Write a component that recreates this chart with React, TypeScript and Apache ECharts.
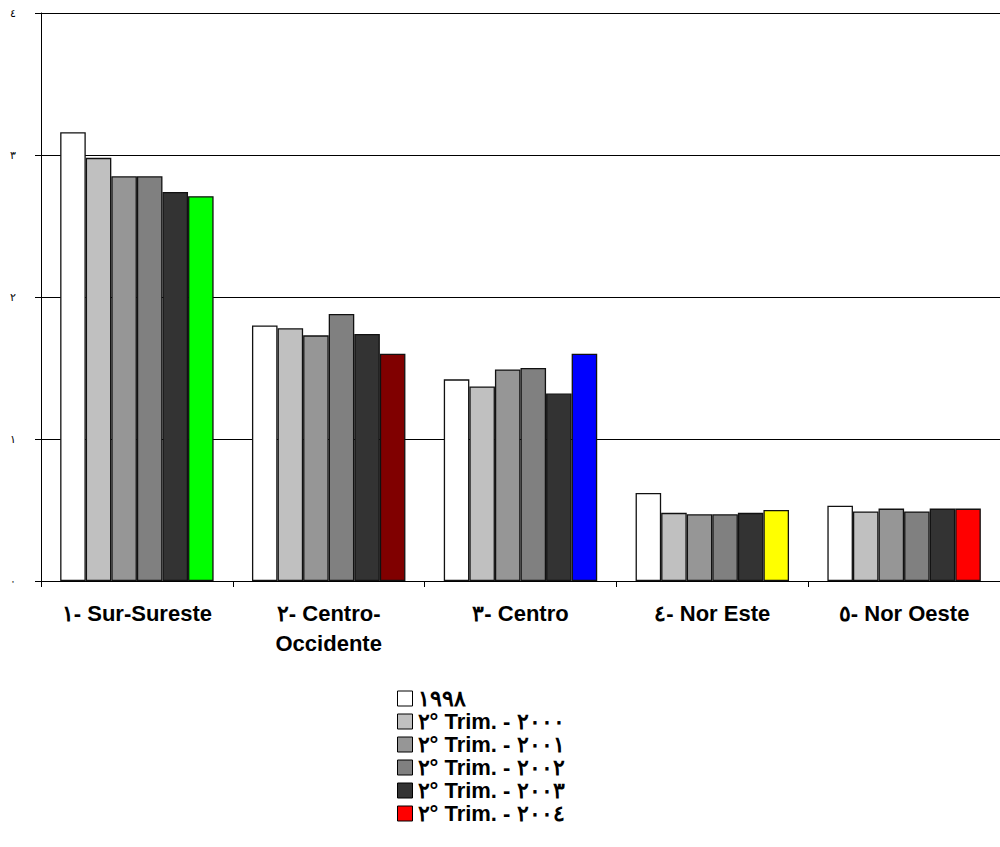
import React, { useEffect, useRef } from "react";
import * as echarts from "echarts";

const categories = [
  "١- Sur-Sureste",
  "٢- Centro-\nOccidente",
  "٣- Centro",
  "٤- Nor Este",
  "٥- Nor Oeste",
];
const yTickLabels = ["٠", "١", "٢", "٣", "٤"];
const seriesNames = [
  "١٩٩٨",
  "٢° Trim. - ٢٠٠٠",
  "٢° Trim. - ٢٠٠١",
  "٢° Trim. - ٢٠٠٢",
  "٢° Trim. - ٢٠٠٣",
  "٢° Trim. - ٢٠٠٤",
];
const seriesColors = ["#FFFFFF", "#C0C0C0", "#969696", "#808080", "#333333", "#FF0000"];
const lastSeriesCategoryColors = ["#00FF00", "#800000", "#0000FF", "#FFFF00", "#FF0000"];

const v1998 = [3.16, 1.8, 1.42, 0.62, 0.53];
const v2000 = [2.98, 1.78, 1.37, 0.48, 0.49];
const v2001 = [2.85, 1.73, 1.49, 0.47, 0.51];
const v2002 = [2.85, 1.88, 1.5, 0.47, 0.49];
const v2003 = [2.74, 1.74, 1.32, 0.48, 0.51];
const v2004 = [2.71, 1.6, 1.6, 0.5, 0.51];

const allValues = [v1998, v2000, v2001, v2002, v2003, v2004];

const FONT = "'Liberation Sans', Arial, sans-serif";

export default function App() {
  const ref = useRef<HTMLDivElement>(null);
  useEffect(() => {
    if (!ref.current) return;
    const chart = echarts.init(ref.current, null, { renderer: "svg" });
    const series = allValues.map((vals, i) => ({
      name: seriesNames[i],
      type: "bar",
      barGap: "0%",
      barCategoryGap: "20%",
      itemStyle: { color: seriesColors[i], borderColor: "#111", borderWidth: 1.3 },
      data:
        i === allValues.length - 1
          ? vals.map((v, j) => ({ value: v, itemStyle: { color: lastSeriesCategoryColors[j] } }))
          : vals,
    }));
    chart.setOption({
      animation: false,
      backgroundColor: "#fff",
      grid: { left: 41, top: 13, width: 965, height: 568, containLabel: false },
      xAxis: {
        type: "category",
        data: categories,
        axisLine: { lineStyle: { color: "#000", width: 1 } },
        axisTick: { show: true, length: 6, lineStyle: { color: "#000" } },
        axisLabel: {
          interval: 0,
          margin: 17,
          fontSize: 22,
          fontWeight: "bold",
          fontFamily: FONT,
          color: "#000",
          lineHeight: 30,
        },
      },
      yAxis: {
        type: "value",
        min: 0,
        max: 4,
        interval: 1,
        axisLine: { show: true, lineStyle: { color: "#000", width: 1 } },
        axisTick: { show: true, length: 6, lineStyle: { color: "#000" } },
        splitLine: { show: true, lineStyle: { color: "#000", width: 1 } },
        axisLabel: {
          margin: 25,
          fontSize: 11,
          fontFamily: FONT,
          color: "#000",
          formatter: (v: number) => yTickLabels[Math.round(v)] ?? "",
        },
      },
      legend: {
        orient: "vertical",
        left: 397,
        top: 687,
        itemWidth: 15,
        itemHeight: 15,
        itemGap: 0,
        icon: "rect",
        padding: 0,
        textStyle: {
          fontSize: 22,
          fontWeight: "bold",
          fontFamily: FONT,
          color: "#000",
          lineHeight: 23,
        },
        itemStyle: { borderColor: "#000", borderWidth: 1 },
        data: seriesNames,
      },
      series,
    });
    return () => chart.dispose();
  }, []);
  return (
    <div
      ref={ref}
      style={{ position: "fixed", left: 0, top: 0, width: 1000, height: 847, background: "#fff" }}
    />
  );
}
